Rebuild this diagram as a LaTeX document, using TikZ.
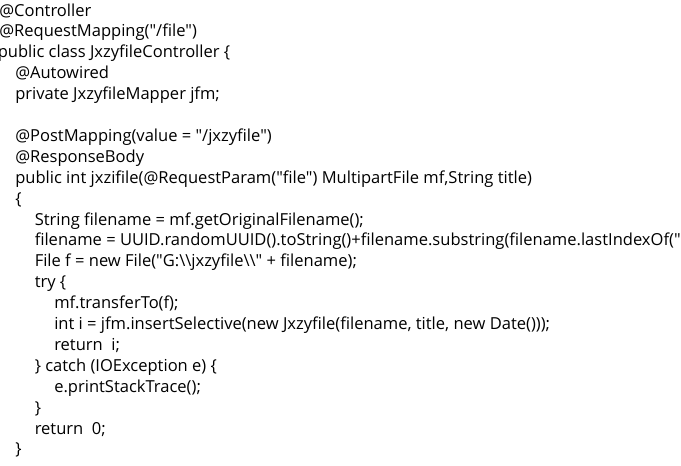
\documentclass[tikz,border=0pt]{standalone}
\usepackage{fontspec}
\setmainfont{Open Sans}[Ligatures=TeXOff]
\usetikzlibrary{positioning}
\tikzset{
	code/.style={anchor=base west,inner sep=0pt,font=\fontsize{12.4pt}{14pt}\selectfont},
}
\newcommand{\bsl}{\textbackslash}

\begin{document}
\begin{tikzpicture}[x=0.75pt,y=-0.75pt]
			\useasboundingbox (0,0) rectangle (681,465);
			\clip (0,0) rectangle (681,465);
			\fill[white] (0,0) rectangle (681,465);
			
			\node[code] (l1) at (-1,16) {@Controller};
			\node[code] (l2) at (-1,36.9) {@RequestMapping("/file")};
			\node[code] (l3) at (-2.5,57.8) {public class JxzyfileController \{};
			\node[code] (l4) at (15,78.7) {@Autowired};
			\node[code] (l5) at (15,99.6) {private JxzyfileMapper jfm;};
			
			\node[code] (l7) at (15,141.4) {@PostMapping(value = "/jxzyfile")};
			\node[code] (l8) at (15,162.3) {@ResponseBody};
			\node[code] (l9) at (15,183.2) {public int jxzifile(@RequestParam("file") MultipartFile mf,String title)};
			\node[code] (l10) at (15,204.1) {\{};
			% method body
			\node[code] (l11) at (34.5,225) {String filename = mf.getOriginalFilename();};
			\node[code] (l12) at (34.5,245.9) {filename = UUID.randomUUID().toString()+filename.substring(filename.lastIndexOf(".")));};
			\node[code] (l13) at (34.5,266.8) {File f = new File("G:\bsl\bsl jxzyfile\bsl\bsl" + filename);};
			\node[code] (l14) at (34.5,287.7) {try \{};
			\node[code] (l15) at (54,308.6) {mf.transferTo(f);};
			\node[code] (l16) at (54,329.5) {int i = jfm.insertSelective(new Jxzyfile(filename, title, new Date()));};
			\node[code] (l17) at (54,350.4) {return\ \ i;};
			\node[code] (l18) at (34.5,371.3) {\} catch (IOException e) \{};
			\node[code] (l19) at (54,392.2) {e.printStackTrace();};
			\node[code] (l20) at (34.5,413.1) {\}};
			\node[code] (l21) at (34.5,434) {return\ \ 0;};
			\node[code] (l22) at (15,454.9) {\}};
		\end{tikzpicture}
\end{document}
